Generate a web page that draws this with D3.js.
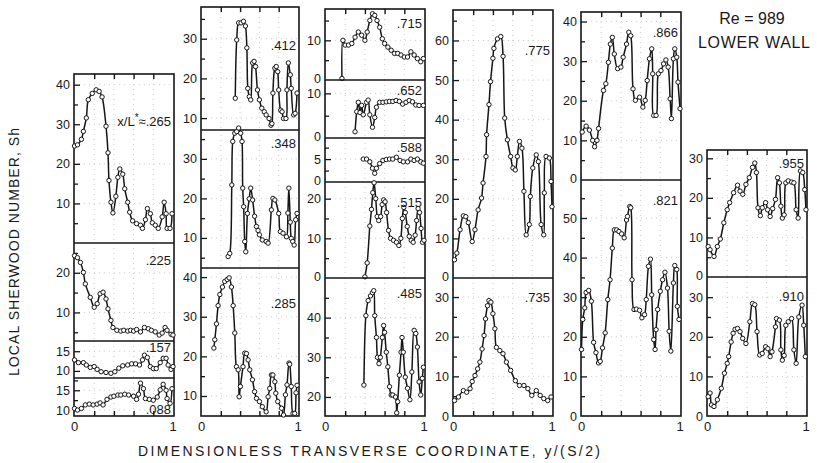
<!DOCTYPE html>
<html>
<head>
<meta charset="utf-8">
<script src="https://cdn.jsdelivr.net/npm/d3@7"></script>
<style>
  body { margin: 0; background: #fff; }
  svg text { font-family: "Liberation Sans Narrow", "Liberation Sans", Arial, sans-serif; fill: #1a1a1a; }
</style>
</head>
<body>
<svg id="chart" width="817" height="463"></svg>
<script>
  // ---- data: local Sherwood number vs y/(S/2), one array per station x/L* ----
  var p265 = [[0,24.5],[0.03,24.8],[0.07,26.2],[0.09,28.2],[0.12,31.6],[0.14,36.2],[0.18,37.8],[0.22,38.7],[0.25,38.3],[0.28,36.9],[0.32,29.5],[0.34,22.8],[0.35,15.8],[0.37,10.3],[0.39,7.6],[0.42,11.8],[0.44,16.6],[0.46,18.7],[0.49,17.4],[0.51,13.7],[0.54,10.3],[0.56,7.8],[0.59,5.6],[0.63,4.9],[0.67,4.5],[0.69,3.7],[0.72,5.9],[0.74,8.7],[0.77,7.4],[0.79,5.1],[0.82,4.5],[0.85,3.7],[0.89,6.6],[0.91,10.3],[0.93,7.4],[0.94,3.7],[0.97,3.7],[0.99,7.4]];
  var p225 = [[0,24.3],[0.03,23.8],[0.06,22.6],[0.09,20.1],[0.11,17.2],[0.16,13.8],[0.2,11.3],[0.23,12.2],[0.26,14.7],[0.29,15.1],[0.32,13.4],[0.34,10.9],[0.37,8],[0.39,6.2],[0.43,5.5],[0.47,5.3],[0.5,5.5],[0.54,5.3],[0.57,5.5],[0.6,5.3],[0.63,5.7],[0.67,5.1],[0.71,6.2],[0.75,5.9],[0.78,5.5],[0.82,5.1],[0.86,4.3],[0.89,4.8],[0.92,6.2],[0.94,5.5],[0.98,4.5],[1,4.3]];
  var p157 = [[0,12.8],[0.04,12.1],[0.09,12.1],[0.12,11.5],[0.16,10.9],[0.2,11.1],[0.23,10.4],[0.27,9.8],[0.32,9.6],[0.37,9.4],[0.41,9.8],[0.45,10.7],[0.49,11.3],[0.54,11.5],[0.58,11.8],[0.62,11.8],[0.66,11.5],[0.69,12.8],[0.71,14],[0.74,13.4],[0.77,11.1],[0.8,10.6],[0.83,10.6],[0.87,12.1],[0.9,13.2],[0.93,13.2],[0.95,11.5],[0.98,10.4],[1,11.1]];
  var p088 = [[0,10.4],[0.03,10],[0.07,10.4],[0.11,11.3],[0.15,11.5],[0.19,11.3],[0.23,11.5],[0.26,11.8],[0.29,11.3],[0.33,12.7],[0.37,13.3],[0.4,13.5],[0.44,13.8],[0.47,13.8],[0.51,14],[0.55,13.8],[0.6,13.5],[0.63,12.7],[0.65,14],[0.67,16.8],[0.7,15.4],[0.72,12.9],[0.76,12.7],[0.8,12.5],[0.84,13.3],[0.87,15.1],[0.9,16.5],[0.93,15],[0.94,12.9],[0.97,11.7],[0.99,15.4]];
  var p412 = [[0.35,15],[0.365,29.7],[0.385,34],[0.41,34],[0.435,34.4],[0.455,33.2],[0.47,27.7],[0.48,17.5],[0.495,15.4],[0.51,14.6],[0.53,23.9],[0.545,24.3],[0.56,23],[0.58,17.1],[0.6,14.6],[0.625,12.5],[0.65,11.6],[0.67,10.8],[0.7,9.9],[0.72,8.2],[0.73,8.6],[0.74,16.3],[0.76,22.6],[0.775,23],[0.79,21.7],[0.8,17.1],[0.82,12],[0.835,11.6],[0.85,9.9],[0.875,9.9],[0.885,17.1],[0.9,23.9],[0.92,20.9],[0.93,17.5],[0.955,10.8],[0.97,11.2],[0.99,16.3]];
  var p348 = [[0.276,5.3],[0.293,6.1],[0.314,23.4],[0.324,34.4],[0.345,36.5],[0.365,36.9],[0.385,37.8],[0.406,36.5],[0.42,34.4],[0.427,22.6],[0.437,17.9],[0.448,9.1],[0.459,6.5],[0.476,16.2],[0.495,19.9],[0.51,22.6],[0.53,19.6],[0.55,15.5],[0.569,12.9],[0.586,11.9],[0.6,10.8],[0.63,9.5],[0.67,9.1],[0.69,8.7],[0.724,17.1],[0.74,20],[0.76,19.6],[0.8,16.2],[0.817,11.6],[0.845,11.2],[0.88,10.3],[0.895,16.3],[0.905,22.6],[0.92,14],[0.93,9.9],[0.945,9.1],[0.96,8.2],[0.976,14.6],[0.99,16.2]];
  var p285 = [[0.128,22.1],[0.138,24.2],[0.155,28.2],[0.172,32.8],[0.19,35.6],[0.217,37.5],[0.241,38.9],[0.266,39.4],[0.286,39.8],[0.31,37.5],[0.328,32.8],[0.345,25.9],[0.362,17.4],[0.38,16.6],[0.39,9.8],[0.403,12.4],[0.43,17.4],[0.448,20.8],[0.466,20.7],[0.483,19.1],[0.5,16.6],[0.528,14.1],[0.55,11.1],[0.57,9.4],[0.6,8.6],[0.63,7.3],[0.67,6],[0.69,9.8],[0.707,11.9],[0.724,15.3],[0.74,15.3],[0.76,13.6],[0.77,10.7],[0.79,8.6],[0.83,6.9],[0.85,5.2],[0.87,10.3],[0.886,12.8],[0.907,18.3],[0.914,18],[0.93,12.4],[0.948,5.6],[0.966,5.6],[0.98,10.8],[0.99,12.7]];
  var p715 = [[0.167,0.4],[0.177,10],[0.2,8.8],[0.233,8.8],[0.267,9.2],[0.3,10.8],[0.333,12.1],[0.367,11.3],[0.4,10],[0.423,12.1],[0.45,15],[0.477,16.7],[0.5,16.3],[0.523,15],[0.55,13.3],[0.577,10.4],[0.6,9.2],[0.633,8.3],[0.667,7.5],[0.7,6.7],[0.733,6.7],[0.767,6.3],[0.8,5.8],[0.833,5.8],[0.867,7.1],[0.9,6.3],[0.933,5.4],[0.967,4.6],[0.993,5.4]];
  var p652 = [[0.3,1.4],[0.317,5.9],[0.333,8],[0.35,5.7],[0.367,7.3],[0.383,5.2],[0.417,8],[0.433,8.5],[0.45,5.2],[0.477,2.4],[0.5,4.6],[0.517,6.9],[0.55,8],[0.583,8],[0.617,8.1],[0.65,8.2],[0.683,8.2],[0.717,8.4],[0.75,8.2],[0.783,7.6],[0.817,8],[0.85,8.4],[0.883,8.1],[0.917,7.4],[0.95,7.3],[0.993,7.3]];
  var p588 = [[0.383,5],[0.417,5],[0.45,4.4],[0.477,3],[0.5,1.9],[0.517,3],[0.55,4],[0.583,4.7],[0.617,4.9],[0.65,5],[0.683,5],[0.72,5.4],[0.757,4.7],[0.79,4.4],[0.833,4.4],[0.867,5],[0.9,4.7],[0.933,5],[0.967,4.4],[0.993,4.1]];
  var p515 = [[0.4,0.3],[0.423,3.8],[0.45,13.1],[0.467,17.3],[0.48,21.5],[0.493,24],[0.51,20],[0.525,15.5],[0.54,14.5],[0.56,15.5],[0.575,18.5],[0.59,19.7],[0.605,19.2],[0.62,16.5],[0.64,12],[0.66,10],[0.69,9.5],[0.72,9],[0.745,8.2],[0.765,10],[0.78,15],[0.795,17.8],[0.81,16.5],[0.83,13],[0.85,10.5],[0.87,9.5],[0.89,9],[0.91,10.8],[0.925,14.5],[0.94,17.5],[0.955,16.5],[0.97,12.5],[0.985,9],[1,9.5]];
  var p485 = [[0.39,23],[0.41,40.5],[0.433,44.3],[0.457,45.5],[0.477,46.3],[0.49,46.8],[0.5,40.5],[0.517,35],[0.527,30],[0.543,28.4],[0.557,30],[0.577,35],[0.59,38],[0.6,36.3],[0.617,31.3],[0.633,27.6],[0.65,22.6],[0.667,20.5],[0.683,20.5],[0.71,20],[0.723,16],[0.733,18.8],[0.75,25.5],[0.767,31.3],[0.777,35],[0.79,31.3],[0.81,25],[0.833,22.2],[0.857,19.3],[0.877,26.3],[0.9,36.8],[0.917,36],[0.933,32.6],[0.95,23.8],[0.967,20.5],[0.983,24.7],[0.993,27.5]];
  var p775 = [[0.01,4.6],[0.034,6.3],[0.067,12.2],[0.1,15.7],[0.125,15.5],[0.15,14],[0.19,9.2],[0.218,12.2],[0.25,17.2],[0.285,20.2],[0.3,24],[0.33,30.7],[0.336,36.2],[0.36,43.8],[0.376,49.6],[0.4,55.5],[0.41,58],[0.446,60.4],[0.48,61],[0.503,56],[0.52,40.4],[0.547,34.9],[0.58,30.7],[0.604,27.8],[0.627,27.3],[0.648,30.7],[0.67,34.5],[0.695,32.8],[0.715,21.9],[0.738,10.9],[0.77,13.5],[0.78,20.6],[0.805,27.8],[0.84,31.1],[0.862,29.4],[0.89,13.5],[0.916,10.9],[0.922,21.5],[0.94,30.7],[0.973,30.3],[0.99,24.4],[1,18]];
  var p735 = [[0.01,3.9],[0.05,4.8],[0.1,6.4],[0.134,6],[0.168,6.9],[0.19,8.7],[0.218,10.2],[0.245,11.9],[0.268,13.6],[0.29,16.9],[0.31,20.3],[0.325,24.5],[0.345,27.8],[0.36,29.1],[0.38,28.7],[0.4,25.8],[0.42,22],[0.436,17.3],[0.47,16.5],[0.503,15.7],[0.537,13.6],[0.58,11.5],[0.628,8.9],[0.67,7.7],[0.715,7.7],[0.755,6.9],[0.795,5.2],[0.84,6.4],[0.88,5.2],[0.916,4.4],[0.956,3.9],[0.99,4.8]];
  var p866 = [[0.007,12.1],[0.047,13.6],[0.08,12.6],[0.113,10],[0.133,8.4],[0.157,10],[0.173,13],[0.223,22.6],[0.247,24.3],[0.273,29.7],[0.293,34.3],[0.313,36],[0.333,31.8],[0.367,28.1],[0.4,28.5],[0.423,31],[0.457,34.3],[0.48,37.3],[0.5,36.4],[0.523,23],[0.547,20.1],[0.59,20.9],[0.623,18.4],[0.647,20.1],[0.667,25.1],[0.69,30.6],[0.713,33.1],[0.723,26.8],[0.733,16.3],[0.757,16.3],[0.78,26.8],[0.807,27.6],[0.833,29.3],[0.857,30.3],[0.88,28.5],[0.9,20.5],[0.913,15.5],[0.933,30.6],[0.947,33.1],[0.967,31],[0.98,24.7],[1,18]];
  var p821 = [[0,16.8],[0.013,24.4],[0.033,27.3],[0.047,31.2],[0.073,31.7],[0.1,29],[0.123,18.6],[0.147,16],[0.173,13.4],[0.19,13.8],[0.213,17.2],[0.24,21],[0.267,29.4],[0.29,34.4],[0.313,42.4],[0.333,47],[0.357,47],[0.38,46.6],[0.407,46],[0.433,45],[0.457,49.5],[0.467,50.4],[0.49,52.9],[0.5,52.6],[0.513,34.4],[0.533,26.9],[0.557,27],[0.59,26.7],[0.613,24.8],[0.64,25.6],[0.657,29.4],[0.68,37.8],[0.7,39.6],[0.713,30.6],[0.733,19.3],[0.747,16.8],[0.757,21.8],[0.773,26.9],[0.8,31.5],[0.823,34.4],[0.847,36.3],[0.873,32.3],[0.89,21.4],[0.907,16.4],[0.933,33.6],[0.947,38],[0.967,37],[0.973,27.7],[0.99,24.4]];
  var p955 = [[0.007,7.7],[0.026,6.9],[0.066,5.2],[0.1,7.7],[0.13,9.6],[0.166,13.7],[0.2,17],[0.225,18.8],[0.265,21.3],[0.305,23.2],[0.33,21.7],[0.358,20.9],[0.39,23.4],[0.424,25.1],[0.457,27.7],[0.48,28.8],[0.497,26.4],[0.513,17.5],[0.536,15.5],[0.556,17.5],[0.59,18.8],[0.61,17],[0.636,15.3],[0.662,17.3],[0.69,19.6],[0.712,25.1],[0.73,23.8],[0.745,17.9],[0.76,14.9],[0.778,15.7],[0.795,23.8],[0.82,24.3],[0.854,24],[0.877,23.8],[0.9,17],[0.92,14.9],[0.944,26.8],[0.967,26.4],[0.987,22.1],[1,17]];
  var p910 = [[0.007,4.9],[0.026,5.8],[0.04,2.8],[0.066,2.4],[0.1,4.1],[0.14,7],[0.172,10.8],[0.2,13.3],[0.215,15],[0.24,18.7],[0.26,20.9],[0.28,21.9],[0.305,22.1],[0.33,21.3],[0.357,19.6],[0.39,18.3],[0.43,23.8],[0.457,28.4],[0.48,28.1],[0.503,21.3],[0.53,15.4],[0.556,15.8],[0.59,17.5],[0.613,17],[0.636,15],[0.655,16.2],[0.69,22.5],[0.7,24.6],[0.73,24.2],[0.745,16.7],[0.76,14.1],[0.778,15.3],[0.795,22.9],[0.82,23.8],[0.854,24.6],[0.877,16.7],[0.9,13.3],[0.927,25],[0.96,28],[0.977,22.9],[0.993,15]];

  // station names, the curve of each, y-axis range and labelled ticks
  var stations = [".265", ".225", ".157", ".088", ".412", ".348", ".285", ".715", ".652", ".588", ".515", ".485", ".775", ".735", ".866", ".821", ".955", ".910"];
  var curves = {".265": p265, ".225": p225, ".157": p157, ".088": p088, ".412": p412, ".348": p348, ".285": p285,
                ".715": p715, ".652": p652, ".588": p588, ".515": p515, ".485": p485, ".775": p775, ".735": p735,
                ".866": p866, ".821": p821, ".955": p955, ".910": p910};
  var yRange = {".265": [0, 42.7], ".225": [2.8, 27.5], ".157": [8.2, 17.6], ".088": [8.5, 18.1],
                ".412": [7, 38], ".348": [2.4, 37.3], ".285": [4.95, 42.3],
                ".715": [0, 17.9], ".652": [0, 13], ".588": [0, 9.6], ".515": [0, 24.2], ".485": [15.2, 50],
                ".775": [0, 67.7], ".735": [0, 34.8], ".866": [0, 42.4], ".821": [0, 59.6],
                ".955": [0, 32.1], ".910": [0, 35.1]};
  var yLabels = {".265": [10, 20, 30, 40], ".225": [10, 20], ".157": [10, 15], ".088": [10, 15],
                 ".412": [10, 20, 30], ".348": [10, 20, 30], ".285": [10, 20, 30, 40],
                 ".715": [0, 10], ".652": [0, 10], ".588": [0, 5], ".515": [0, 10, 20], ".485": [20, 30, 40],
                 ".775": [0, 10, 20, 30, 40, 50, 60], ".735": [0, 10, 20, 30], ".866": [0, 10, 20, 30, 40],
                 ".821": [0, 10, 20, 30, 40, 50], ".955": [0, 10, 20, 30], ".910": [0, 10, 20, 30]};

  // ---- layout (pixels) ----
  var cols = [[74, 174], [201, 299], [325, 425], [453, 553], [581, 681], [707, 807]];
  var colTop = [74, 7, 9, 10, 12, 150];
  var bottomY = 416;
  // station -> [column, top, bottom, baseline offset of its label]
  var boxes = {".265": [0, 74, 243, 52], ".225": [0, 243, 341, 22], ".157": [0, 341, 378, 11], ".088": [0, 378, 416, 36],
               ".412": [1, 7, 130, 43], ".348": [1, 130, 268, 18], ".285": [1, 268, 416, 40],
               ".715": [2, 9, 80, 19], ".652": [2, 80, 138, 15], ".588": [2, 138, 182, 14], ".515": [2, 182, 278, 25], ".485": [2, 278, 416, 20],
               ".775": [3, 10, 278, 45], ".735": [3, 278, 416, 24],
               ".866": [4, 12, 180, 25], ".821": [4, 180, 416, 25],
               ".955": [5, 150, 277, 18], ".910": [5, 277, 416, 24]};

  var svg = d3.select("#chart");
  var ink = "#161616";

  function xScaleFor(c) {
    return d3.scaleLinear().domain([0, 1]).range([cols[c][0] + 0.5, cols[c][1] - 1]);
  }

  // faint graph-paper dots behind the curves
  var grid = svg.append("g").attr("stroke", "#9a9a9a").attr("stroke-width", 0.8)
    .attr("stroke-dasharray", "1,4").attr("opacity", 0.6);
  stations.forEach(function (s) {
    var b = boxes[s], x = xScaleFor(b[0]);
    var y = d3.scaleLinear().domain(yRange[s]).range([b[2], b[1]]);
    [0.2, 0.4, 0.6, 0.8].forEach(function (v) {
      grid.append("line").attr("x1", x(v)).attr("x2", x(v)).attr("y1", b[1]).attr("y2", b[2]);
    });
    yLabels[s].forEach(function (v) {
      if (v > yRange[s][0] + 0.5 && v < yRange[s][1] - 0.5)
        grid.append("line").attr("x1", cols[b[0]][0]).attr("x2", cols[b[0]][1]).attr("y1", y(v)).attr("y2", y(v));
    });
  });

  // column frames with top / bottom x ticks and 0 / 1 labels
  cols.forEach(function (c, i) {
    var x = xScaleFor(i);
    svg.append("rect").attr("x", c[0]).attr("y", colTop[i]).attr("width", c[1] - c[0]).attr("height", bottomY - colTop[i])
      .attr("fill", "none").attr("stroke", ink).attr("stroke-width", 1.6);
    var top = svg.append("g").attr("transform", "translate(0," + colTop[i] + ")")
      .call(d3.axisBottom(x).tickValues([0.2, 0.4, 0.6, 0.8]).tickSize(5).tickFormat(""));
    var bot = svg.append("g").attr("transform", "translate(0," + bottomY + ")")
      .call(d3.axisTop(x).tickValues([0.2, 0.4, 0.6, 0.8]).tickSize(5).tickFormat(""));
    [top, bot].forEach(function (g) {
      g.select(".domain").remove();
      g.selectAll("line").attr("stroke", ink).attr("stroke-width", 1.4);
    });
    svg.append("g").attr("font-size", 13).attr("text-anchor", "middle")
      .selectAll("text").data([0, 1]).join("text")
      .attr("x", function (d) { return x(d); }).attr("y", 431)
      .text(function (d) { return d; });
  });

  var line = d3.line().curve(d3.curveCatmullRom.alpha(0.5));

  stations.forEach(function (s) {
    var b = boxes[s], c = b[0];
    var x = xScaleFor(c);
    var y = d3.scaleLinear().domain(yRange[s]).range([b[2], b[1]]);

    // divider between stacked panels
    if (b[1] > colTop[c]) {
      svg.append("line").attr("x1", cols[c][0]).attr("x2", cols[c][1]).attr("y1", b[1]).attr("y2", b[1])
        .attr("stroke", ink).attr("stroke-width", 1.5);
    }

    // left axis: labelled ticks plus half-step minor ticks, drawn inward
    var step = yLabels[s][1] - yLabels[s][0];
    var minor = d3.range(yLabels[s][0] - step / 2, yRange[s][1], step / 2)
      .filter(function (v) { return v > yRange[s][0] + 0.3 && v < yRange[s][1] - 0.3; });
    var ax = svg.append("g").attr("transform", "translate(" + cols[c][0] + ",0)")
      .call(d3.axisRight(y).tickValues(minor).tickSize(4).tickFormat(""));
    ax.select(".domain").remove();
    ax.selectAll("line").attr("stroke", ink).attr("stroke-width", 1.3)
      .attr("x2", function (d) { return yLabels[s].indexOf(d) >= 0 ? 6 : 4; });

    // a zero sitting on a divider with a panel below is lifted a little
    var lifted = b[2] < bottomY;
    svg.append("g").attr("font-size", 12.5).attr("text-anchor", "end")
      .selectAll("text").data(yLabels[s]).join("text")
      .attr("x", cols[c][0] - 4)
      .attr("y", function (d) { return y(d) + (lifted && d === yRange[s][0] ? 2.5 : 4.5); })
      .text(function (d) { return d; });

    // curve and data points
    svg.append("path").datum(curves[s])
      .attr("d", line.x(function (d) { return x(d[0]); }).y(function (d) { return y(d[1]); }))
      .attr("fill", "none").attr("stroke", ink).attr("stroke-width", 1.5);
    svg.append("g").selectAll("circle").data(curves[s]).join("circle")
      .attr("cx", function (d) { return x(d[0]); }).attr("cy", function (d) { return y(d[1]); })
      .attr("r", 2.2).attr("fill", "#fff").attr("stroke", ink).attr("stroke-width", 1);

    // station label
    var t = svg.append("text").attr("x", cols[c][1] - 3).attr("y", b[1] + b[3])
      .attr("text-anchor", "end").attr("font-size", 13);
    if (s === ".265") {
      t.append("tspan").text("x/L");
      t.append("tspan").attr("dy", -5).attr("font-size", 10).text("*");
      t.append("tspan").attr("dy", 5).text("\u2248" + s);
    } else {
      t.text(s);
    }
  });

  // titles
  svg.append("text").attr("x", 752).attr("y", 24).attr("text-anchor", "middle").attr("font-size", 16).text("Re = 989");
  svg.append("text").attr("x", 754).attr("y", 48).attr("text-anchor", "middle").attr("font-size", 16)
    .attr("textLength", 112).attr("lengthAdjust", "spacing").text("LOWER WALL");
  svg.append("text").attr("transform", "translate(19,252) rotate(-90)").attr("text-anchor", "middle")
    .attr("font-size", 14).attr("textLength", 248).attr("lengthAdjust", "spacing").text("LOCAL SHERWOOD NUMBER, Sh");
  svg.append("text").attr("x", 369).attr("y", 456).attr("text-anchor", "middle")
    .attr("font-size", 14).attr("textLength", 462).attr("lengthAdjust", "spacing")
    .text("DIMENSIONLESS TRANSVERSE COORDINATE, y/(S/2)");
</script>
</body>
</html>
